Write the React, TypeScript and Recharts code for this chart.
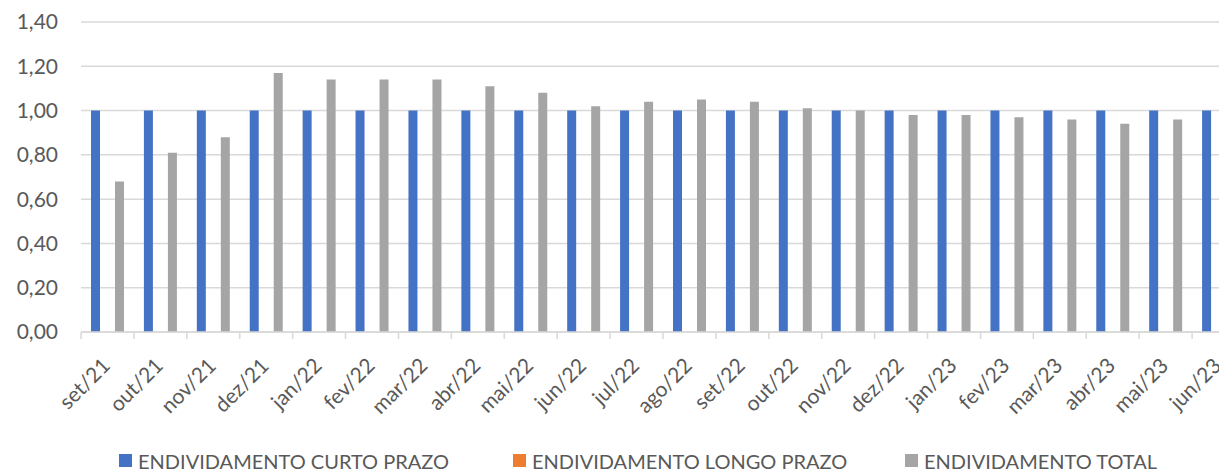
import { BarChart, Bar, XAxis, YAxis, CartesianGrid, Legend } from 'recharts';

// ─────────────────────────────────────────────────────────────────────────────
// Data
// ─────────────────────────────────────────────────────────────────────────────

const MONTHS = [
  'set/21', 'out/21', 'nov/21', 'dez/21', 'jan/22', 'fev/22', 'mar/22', 'abr/22',
  'mai/22', 'jun/22', 'jul/22', 'ago/22', 'set/22', 'out/22', 'nov/22', 'dez/22',
  'jan/23', 'fev/23', 'mar/23', 'abr/23', 'mai/23', 'jun/23',
];

const CURTO_PRAZO = [
  1.0, 1.0, 1.0, 1.0, 1.0, 1.0, 1.0, 1.0, 1.0, 1.0, 1.0,
  1.0, 1.0, 1.0, 1.0, 1.0, 1.0, 1.0, 1.0, 1.0, 1.0, 1.0,
];

const LONGO_PRAZO = [
  0, 0, 0, 0, 0, 0, 0, 0, 0, 0, 0,
  0, 0, 0, 0, 0, 0, 0, 0, 0, 0, 0,
];

const TOTAL = [
  0.68, 0.81, 0.88, 1.17, 1.14, 1.14, 1.14, 1.11, 1.08, 1.02, 1.04,
  1.05, 1.04, 1.01, 1.0, 0.98, 0.98, 0.97, 0.96, 0.94, 0.96, 0.95,
];

const Y_TICKS = [0, 0.2, 0.4, 0.6, 0.8, 1.0, 1.2, 1.4];

const SERIES = [
  { key: 'curto', name: 'ENDIVIDAMENTO CURTO PRAZO', color: '#4472C4' },
  { key: 'longo', name: 'ENDIVIDAMENTO LONGO PRAZO', color: '#ED7D31' },
  { key: 'total', name: 'ENDIVIDAMENTO TOTAL', color: '#A5A5A5' },
];

const data = MONTHS.map((m, i) => ({
  month: m,
  curto: CURTO_PRAZO[i],
  longo: LONGO_PRAZO[i],
  total: TOTAL[i],
}));

const FONT = 'Lato, "Noto Sans", sans-serif';
const TEXT = '#595959';
const GRID = '#d9d9d9';

const fmt = (v: number) => v.toFixed(2).replace('.', ',');

// Rotated month label plus an Excel-style tick mark at the category boundary
function MonthTick(props: any) {
  const { x, y, payload } = props;
  const half = payload?.offset ?? 0;
  const tx = x + 4;
  const ty = y + 35;
  return (
    <g>
      <line x1={x - half} y1={y} x2={x - half} y2={y + 7} stroke={GRID} strokeWidth={1.5} />
      {payload.index === MONTHS.length - 1 && (
        <line x1={x + half} y1={y} x2={x + half} y2={y + 7} stroke={GRID} strokeWidth={1.5} />
      )}
      <text
        x={tx}
        y={ty}
        textAnchor="end"
        transform={`rotate(-45, ${tx}, ${ty})`}
        fill={TEXT}
        fontSize={21}
        fontFamily={FONT}
      >
        {payload.value}
      </text>
    </g>
  );
}

function renderLegend(props: any) {
  const items = props.payload || [];
  const widths = [394, 392, 300];
  return (
    <div
      style={{
        height: 39,
        paddingTop: 18,
        boxSizing: 'border-box',
        paddingLeft: 119,
        display: 'flex',
        fontFamily: FONT,
        fontSize: 20,
        lineHeight: '20px',
        color: TEXT,
      }}
    >
      {items.map((it: any, i: number) => (
        <div key={it.value} style={{ width: widths[i], display: 'flex', alignItems: 'center', whiteSpace: 'nowrap' }}>
          <span style={{ display: 'inline-block', width: 13, height: 13, background: it.color, marginRight: 6 }} />
          <span>{it.value}</span>
        </div>
      ))}
    </div>
  );
}

export default function App() {
  return (
    <div style={{ position: 'fixed', left: 0, top: 0, width: 1219, height: 471, overflow: 'hidden', background: '#fff' }}>
      <BarChart
        width={1250}
        height={471}
        data={data}
        margin={{ top: 22, right: 5, bottom: 0, left: 0 }}
        barCategoryGap={10}
        barGap={3}
      >
        <CartesianGrid vertical={false} stroke={GRID} strokeWidth={1.5} />
        <XAxis
          dataKey="month"
          interval={0}
          height={100}
          tickLine={false}
          tickSize={0}
          tickMargin={0}
          axisLine={{ stroke: GRID, strokeWidth: 1.5 }}
          tick={<MonthTick />}
        />
        <YAxis
          width={81}
          domain={[0, 1.4]}
          ticks={Y_TICKS}
          tickFormatter={fmt}
          axisLine={false}
          tickLine={false}
          tickMargin={17}
          tick={{ fill: TEXT, fontSize: 21, fontFamily: FONT }}
        />
        <Legend verticalAlign="bottom" content={renderLegend} />
        {SERIES.map(s => (
          <Bar key={s.key} dataKey={s.key} name={s.name} fill={s.color} isAnimationActive={false} />
        ))}
      </BarChart>
    </div>
  );
}
